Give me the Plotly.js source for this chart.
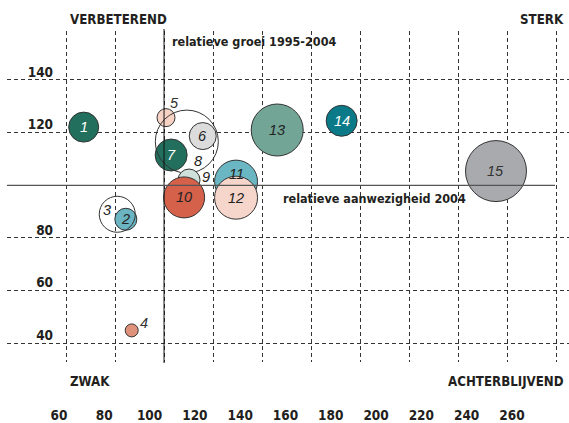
<!DOCTYPE html>
<html>
<head>
<meta charset="utf-8">
<script src="https://cdn.plot.ly/plotly-3.0.1.min.js"></script>
<style>html,body{margin:0;padding:0;background:#fff;}#chart{width:569px;height:423px;}</style>
</head>
<body>
<div id="chart"></div>
<script>
// Data
var labels = ['1','2','3','4','5','6','7','8','9','10','11','12','13','14','15'];
var presence = [67.2, 84.4, 80.9, 86.8, 100.8, 115.8, 102.9, 109.3, 110.2, 108.2, 129.4, 129.4, 146.2, 172.5, 235.5];
var growth = [122.1, 87.1, 89.0, 44.9, 125.7, 118.7, 111.5, 116.6, 102.0, 95.4, 101.4, 95.3, 121.0, 124.5, 105.4];
var bubbleSize = [30, 22, 36, 13, 18, 27, 32, 63, 22, 41, 43, 43, 52, 31, 61];
var fills = ['#216f5c','#6ab5c1','rgba(0,0,0,0)','#e0917a','#f6d3c4','#dcdcdd','#216f5c','rgba(0,0,0,0)','#cfe0da','#d6614a','#6ab7c3','#f6d6ca','#72a596','#0a7a88','#a9aaae'];
var labelColors = ['#ffffff','#222','#222','#333','#333','#222','#ffffff','#222','#222','#222','#222','#222','#222','#ffffff','#333'];
var labelDx = [0,0,-10,12,8,0,0,11,17,0,0,0,0,0,0];
var labelDy = [0,0,4,7,15,0,0,-19,3,0,8,0,0,0,0];
var xTicks = [60,80,100,120,140,160,180,200,220,240,260];
var yTicks = [40,60,80,120,140];

var bold = 'Liberation Sans Narrow, DejaVu Sans Condensed, Arial Narrow, sans-serif';

var trace = {
  type: 'scatter', mode: 'markers', x: presence, y: growth, xaxis: 'x', yaxis: 'y',
  marker: {size: bubbleSize, sizemode: 'diameter', color: fills, opacity: 1,
           line: {color: '#333', width: 1}},
  hoverinfo: 'none', cliponaxis: false
};

var annotations = labels.map(function (t, i) {
  return {x: presence[i], y: growth[i], xref: 'x', yref: 'y', text: t, showarrow: false,
          xshift: labelDx[i], yshift: labelDy[i],
          font: {family: 'Liberation Sans, Arial, sans-serif', size: 14.5, style: 'italic', color: labelColors[i]}};
});
function txt(text, x, y, xa, size) {
  return {text: text, x: x, y: y, xref: 'paper', yref: 'paper', xanchor: xa, yanchor: 'middle',
          showarrow: false, font: {family: bold, size: size, color: '#231f20', weight: 'bold'}};
}
// paper coords: plot area px x 7..569, y 31..362
function px(xp){return (xp-7)/562;}
function py(yp){return (362-yp)/331;}
annotations.push(txt('VERBETEREND', px(118), py(20), 'center', 13.2));
annotations.push(txt('STERK', px(566), py(20), 'right', 13.2));
annotations.push(txt('ZWAK', px(68), py(381), 'left', 13.2));
annotations.push(txt('ACHTERBLIJVEND', px(566), py(381), 'right', 13.2));
annotations.push(txt('relatieve groei 1995-2004', px(170), py(42), 'left', 12.5));
annotations.push(txt('relatieve aanwezigheid 2004', px(281), py(198), 'left', 12.5));

var layout = {
  width: 569, height: 423,
  margin: {l: 7, r: 0, t: 31, b: 61},
  paper_bgcolor: '#fff', plot_bgcolor: 'rgba(0,0,0,0)',
  showlegend: false,
  xaxis: {range: [35.9, 265.3], tickvals: xTicks, showticklabels: false, ticks: '', anchor: 'y',
          showgrid: true, gridcolor: '#333', gridwidth: 1, griddash: '4px,3px',
          zeroline: false, showline: false, fixedrange: true},
  yaxis: {range: [32.9, 158.6], tickvals: yTicks, anchor: 'free', position: 0.082, side: 'left',
          domain: [0, 1],
          showgrid: true, gridcolor: '#333', gridwidth: 1, griddash: '4px,3px',
          zeroline: false, showline: false, ticks: '', ticklabelshift: -8,
          tickfont: {family: bold, size: 13.5, color: '#231f20', weight: 'bold'}},
  // separate label-only axis pair for the bottom scale labels
  xaxis2: {anchor: 'y2', domain: [0, 1], range: [37.04, 285.2], tickvals: xTicks,
           showgrid: false, zeroline: false, showline: false, ticks: '', ticklabelstandoff: 43,
           tickfont: {family: bold, size: 13.5, color: '#231f20', weight: 'bold'}},
  yaxis2: {anchor: 'x2', domain: [0, 0.001], showgrid: false, zeroline: false, showline: false,
           showticklabels: false, ticks: ''},
  shapes: [
    {type: 'line', xref: 'x', yref: 'paper', x0: 100, x1: 100, y0: py(363), y1: py(29), line: {color: '#111', width: 1}},
    {type: 'line', xref: 'paper', yref: 'y', x0: 0, x1: px(555), y0: 100, y1: 100, line: {color: '#555', width: 1.2}}
  ],
  annotations: annotations
};
var dummy = {type: 'scatter', mode: 'markers', x: [], y: [], xaxis: 'x2', yaxis: 'y2', hoverinfo: 'none'};
Plotly.newPlot('chart', [trace, dummy], layout, {staticPlot: true, displayModeBar: false});
</script>
</body>
</html>
